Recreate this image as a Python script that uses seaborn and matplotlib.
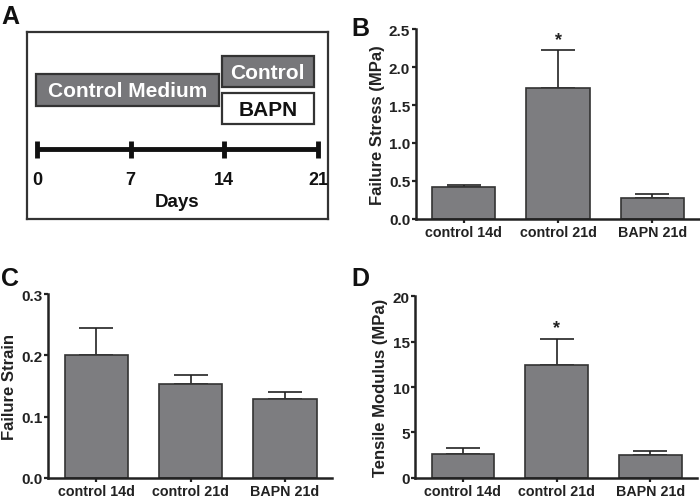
import numpy as np
import seaborn as sns
import matplotlib
matplotlib.use("Agg")
import matplotlib.pyplot as plt
from matplotlib.patches import Rectangle

# data
groups = ["control 14d", "control 21d", "BAPN 21d"]

stress_mean = [0.42, 1.72, 0.28]
stress_err = [0.03, 0.50, 0.05]

strain_mean = [0.201, 0.153, 0.129]
strain_err = [0.044, 0.015, 0.012]

modulus_mean = [2.6, 12.4, 2.5]
modulus_err = [0.7, 2.9, 0.45]

# timeline of panel A (days)
day_ticks = [0, 7, 14, 21]
phase1 = ("Control Medium", 0, 13.6)
phase2 = [("Control", 13.8, 20.7), ("BAPN", 13.8, 20.7)]

sns.set_style("ticks")
plt.rcParams["font.family"] = ["Liberation Sans", "DejaVu Sans"]
plt.rcParams["font.weight"] = "bold"

ink = "#222222"
bar_grey = "#7d7d80"

fig = plt.figure(figsize=(7.0, 5.02), dpi=100)


def bar_panel(rect, means, errs, ylabel, yticks, fmt, star=False):
    ax = fig.add_axes(rect)
    sns.barplot(x=groups, y=means, order=groups, color=bar_grey, saturation=1,
                width=0.67, edgecolor="#333333", linewidth=1.2, ax=ax, zorder=2)
    ax.errorbar(np.arange(len(groups)), means, yerr=[np.zeros(len(errs)), errs],
                fmt="none", ecolor=ink, elinewidth=1.2, capsize=12.5, capthick=1.2,
                zorder=1)
    ax.set_xlim(-0.51, 2.5)
    ax.set_ylim(yticks[0], yticks[-1])
    ax.set_yticks(yticks)
    ax.set_yticklabels([fmt.format(t) for t in yticks])
    ax.set_ylabel(ylabel, fontsize=12, fontweight="bold", color=ink, labelpad=3)
    ax.set_xlabel("")
    for s in ("top", "right"):
        ax.spines[s].set_visible(False)
    for s in ("left", "bottom"):
        ax.spines[s].set_linewidth(1.8)
        ax.spines[s].set_color(ink)
    ax.tick_params(axis="y", direction="out", length=3, width=1.6, color=ink,
                   labelsize=11, labelcolor=ink, pad=1)
    ax.tick_params(axis="x", direction="out", length=3, width=1.6, color=ink,
                   labelsize=10.3, labelcolor=ink, pad=1.5)
    if star:
        i = int(np.argmax(means))
        ax.annotate("*", (i, means[i] + errs[i]), xytext=(0, 2),
                    textcoords="offset points", ha="center", va="bottom",
                    fontsize=13, fontweight="bold", color=ink)
    return ax


bar_panel([0.594, 0.562, 0.405, 0.378], stress_mean, stress_err,
          "Failure Stress (MPa)", [0, 0.5, 1.0, 1.5, 2.0, 2.5], "{:.1f}", star=True)
bar_panel([0.0686, 0.046, 0.406, 0.366], strain_mean, strain_err,
          "Failure Strain", [0, 0.1, 0.2, 0.3], "{:.1f}")
bar_panel([0.593, 0.046, 0.403, 0.362], modulus_mean, modulus_err,
          "Tensile Modulus (MPa)", [0, 5, 10, 15, 20], "{:.0f}", star=True)

# panel A: schematic of the culture timeline
axa = fig.add_axes([0.0386, 0.562, 0.43, 0.372])
axa.set_xlim(-0.747, 21.747)
axa.set_ylim(220, 33)
axa.set_xticks([])
axa.set_yticks([])
for s in axa.spines.values():
    s.set_linewidth(1.6)
    s.set_color("#333333")

name, d0, d1 = phase1
axa.add_patch(Rectangle((d0 - 0.07, 75), d1 - d0 + 0.07, 32, facecolor="#77777a",
                        edgecolor="#333333", linewidth=1.6))
axa.text((d0 + d1) / 2 - 0.03, 91.5, name, ha="center", va="center", color="white",
         fontsize=15, fontweight="bold")
for (name, d0, d1), (y0, fc, tc) in zip(phase2, [(57, "#77777a", "white"),
                                              (94, "white", "#111111")]):
    axa.add_patch(Rectangle((d0, y0), d1 - d0, 31, facecolor=fc,
                            edgecolor="#333333", linewidth=1.6))
    axa.text((d0 + d1) / 2, y0 + 16, name, ha="center", va="center", color=tc,
             fontsize=15, fontweight="bold")

axa.plot([day_ticks[0], day_ticks[-1]], [150, 150], color="#111111", lw=3.5,
         solid_capstyle="butt")
for d in day_ticks:
    axa.plot([d, d], [142, 159], color="#111111", lw=3.5, solid_capstyle="butt")
    axa.text(d, 181, str(d), ha="center", va="center", fontsize=13,
             fontweight="bold", color="#111111")
axa.text(np.mean([day_ticks[0], day_ticks[-1]]), 203, "Days", ha="center",
         va="center", fontsize=13.5, fontweight="bold", color="#111111")

# panel letters
for letter, x, y in [("A", 0.002, 0.99), ("B", 0.502, 0.966),
                     ("C", 0.002, 0.468), ("D", 0.502, 0.468)]:
    fig.text(x, y, letter, ha="left", va="top", fontsize=18, fontweight="bold",
             color="#111111")

fig.savefig("out.png", dpi=100)
